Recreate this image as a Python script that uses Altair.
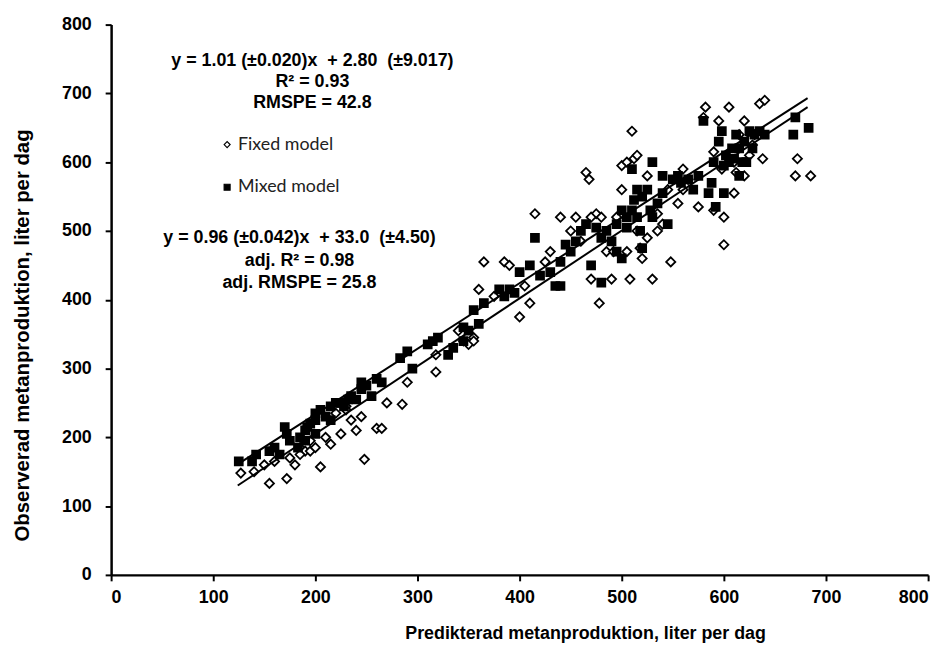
import altair as alt
import pandas as pd

# Fixed model (open diamonds): predicted, observed
fixed_x = [127, 140, 155, 150, 160, 172, 175, 180, 185, 190, 195, 200, 205, 210, 215, 225, 230, 235, 240, 245,
           248, 260, 265, 270, 285, 290, 230, 195, 185, 220,
           318, 318, 355, 360, 365, 385, 390, 400, 410, 415, 425, 430, 440, 405, 375, 345, 350, 355, 340,
           450, 455, 460, 465, 468, 470, 475, 480, 478, 485, 490, 495, 500, 505, 508, 510, 512, 515, 518, 520,
           525, 530, 535, 540, 545, 548, 555, 500, 492, 505, 515, 525, 535, 560, 470,
           580, 582, 590, 595, 598, 600, 605, 610, 612, 615, 620, 625, 630, 635, 640, 638, 620, 670, 672, 685,
           590, 600, 565, 575, 560, 610, 628]
fixed_y = [148, 150, 133, 160, 165, 140, 170, 160, 185, 180, 180, 185, 157, 200, 190, 205, 245, 225, 210, 230,
           168, 213, 213, 250, 248, 280, 240, 195, 175, 235,
           295, 320, 345, 415, 455, 455, 450, 375, 395, 525, 455, 470, 520, 420, 405, 340, 335, 340, 355,
           500, 520, 485, 585, 575, 430, 525, 520, 395, 470, 430, 520, 595, 600, 430, 645, 605, 610, 475, 460,
           490, 430, 500, 510, 560, 455, 540, 560, 470, 470, 500, 580, 525, 590, 520,
           665, 680, 615, 660, 590, 480, 680, 555, 585, 640, 660, 610, 640, 685, 690, 605, 580, 580, 605, 580,
           530, 520, 575, 535, 560, 600, 625]

# Mixed model (filled squares): predicted, observed
mixed_x = [125, 138, 142, 155, 160, 165, 170, 175, 172, 183, 185, 190, 192, 195, 200, 200, 205, 210, 215, 220,
           225, 228, 232, 240, 245, 250, 255, 260, 265, 283, 290, 310, 315, 320, 295, 215, 235, 245, 200, 190,
           345, 350, 355, 360, 365, 380, 385, 390, 395, 400, 410, 415, 420, 430, 435, 440, 440, 445, 330, 335, 345,
           450, 455, 460, 465, 470, 475, 480, 480, 485, 490, 495, 500, 500, 505, 510, 510, 512, 515, 518, 520,
           520, 525, 528, 530, 535, 540, 545, 550, 555, 558, 540, 530, 515, 505, 495,
           575, 580, 585, 590, 592, 595, 598, 600, 602, 605, 608, 610, 612, 615, 618, 620, 622, 625, 628, 630,
           635, 640, 670, 683, 668, 570, 565, 588, 600, 615]
mixed_y = [165, 165, 175, 180, 185, 175, 215, 195, 205, 185, 200, 210, 215, 220, 205, 225, 240, 230, 225, 250,
           250, 245, 255, 255, 270, 275, 260, 285, 280, 315, 325, 335, 340, 345, 300, 245, 260, 280, 235, 195,
           340, 355, 385, 365, 395, 415, 405, 415, 410, 440, 450, 490, 435, 440, 420, 420, 455, 480, 320, 330, 360,
           470, 485, 500, 510, 450, 505, 490, 425, 500, 485, 510, 530, 460, 520, 590, 530, 545, 520, 500, 475,
           550, 560, 530, 600, 540, 555, 510, 575, 580, 570, 580, 520, 560, 505, 470,
           580, 660, 555, 600, 535, 630, 645, 555, 610, 600, 620, 605, 640, 580, 600, 630, 600, 645, 620, 640,
           645, 640, 665, 650, 640, 560, 575, 570, 595, 620]

# Regression lines (end points)
line_model = ["Mixed model", "Mixed model", "Fixed model", "Fixed model"]
line_x = [123, 682, 124, 682]
line_y = [160, 693, 130, 680]

NB = "\u00a0"
ann_top = ["y = 1.01 (\u00b10.020)x " + NB + "+ 2.80 " + NB + "(\u00b19.017)", "R\u00b2 = 0.93", "RMSPE = 42.8"]
ann_bottom = ["y = 0.96 (\u00b10.042)x " + NB + "+ 33.0 " + NB + "(\u00b14.50)", "adj. R\u00b2 = 0.98", "adj. RMSPE = 25.8"]

models = ["Fixed model", "Mixed model"]
pts = pd.concat([
    pd.DataFrame({"x": fixed_x, "y": fixed_y, "model": models[0]}),
    pd.DataFrame({"x": mixed_x, "y": mixed_y, "model": models[1]}),
])
lines = pd.DataFrame({"x": line_x, "y": line_y, "model": line_model})

FONT = "Liberation Sans"
ticks = [0, 100, 200, 300, 400, 500, 600, 700, 800]

xs = alt.Scale(domain=[0, 800], nice=False, zero=True)
ys = alt.Scale(domain=[0, 800], nice=False, zero=True)

points = alt.Chart(pts).mark_point(strokeWidth=1.8, opacity=1, stroke="black").encode(
    x=alt.X("x:Q", scale=xs, title="Predikterad metanproduktion, liter per dag",
            axis=alt.Axis(values=ticks, titleX=478)),
    y=alt.Y("y:Q", scale=ys, title="Observerad metanproduktion, liter per dag",
            axis=alt.Axis(values=ticks, titleFontSize=20.5, titleY=313)),
    shape=alt.Shape("model:N", scale=alt.Scale(domain=models, range=["diamond", "square"]),
                    legend=alt.Legend(title=None, orient="none", legendX=108, legendY=112,
                                      labelFont="Lato", labelFontSize=18, labelColor="#222",
                                      symbolSize=36, rowPadding=25, symbolStrokeWidth=1.2,
                                      labelOffset=2)),
    fill=alt.Fill("model:N", scale=alt.Scale(domain=models, range=["white", "black"])),
    size=alt.condition(alt.datum.model == "Fixed model", alt.value(85), alt.value(64)),
)

reg = alt.Chart(lines).mark_line(color="black", strokeWidth=2).encode(
    x=alt.X("x:Q", scale=xs), y=alt.Y("y:Q", scale=ys), detail="model:N"
)

t1 = alt.Chart(pd.DataFrame({"a": [0]})).mark_text(
    text=ann_top, lineHeight=21,
    font=FONT, fontWeight="bold", fontSize=18, align="center", baseline="top", color="black"
).encode(x=alt.value(203), y=alt.value(28))

t2 = alt.Chart(pd.DataFrame({"a": [0]})).mark_text(
    text=ann_bottom, lineHeight=23,
    font=FONT, fontWeight="bold", fontSize=18, align="center", baseline="top", color="black"
).encode(x=alt.value(190), y=alt.value(206))

chart = alt.layer(points, reg, t1, t2).properties(
    width=824, height=555,
    autosize=alt.AutoSizeParams(type="none"),
    padding={"left": 104, "top": 14, "right": 14, "bottom": 72},
    background="white",
).configure_view(stroke=None).configure_axis(
    grid=False, domainColor="black", domainWidth=2.5, tickColor="black", tickWidth=2, tickSize=6,
    labelFont=FONT, labelFontWeight="bold", labelFontSize=18, labelColor="black",
    titleFont=FONT, titleFontWeight="bold", titleFontSize=18, titleColor="black",
).configure_axisY(labelPadding=14, titlePadding=29).configure_axisX(labelPadding=8, titlePadding=18)

chart.save("out.html", embed_options={"renderer": "svg", "actions": False})
